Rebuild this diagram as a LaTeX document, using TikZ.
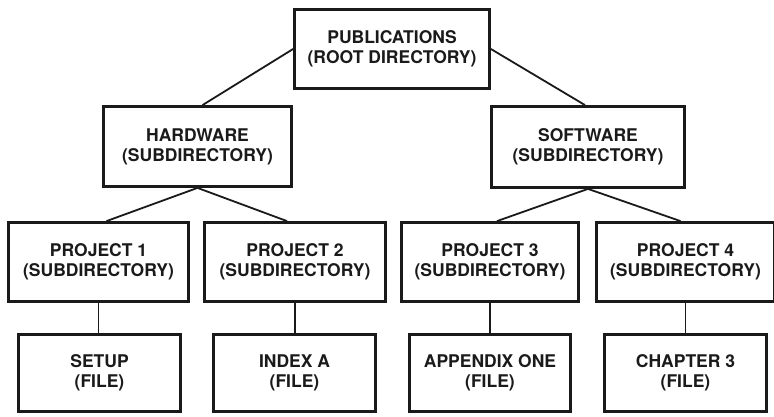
\documentclass[tikz,border=0pt]{standalone}
\usepackage{fontspec}
\setmainfont{TeX Gyre Heros}
\usetikzlibrary{calc}
\definecolor{ink}{HTML}{1A1A1A}
\tikzset{
  box/.style={draw=ink, line width=2.8pt, rectangle, align=center, inner sep=0pt,
    font=\fontsize{17.5}{20}\selectfont\bfseries, text=ink},
  bigbox/.style={box, minimum height=79pt},
  filebox/.style={box, minimum width=162pt, minimum height=77pt},
  link/.style={draw=ink, line width=1.8pt}
}
\begin{document}
\begin{tikzpicture}[x=1pt,y=-1pt]
\clip (0,0) rectangle (774,417);
\fill[white] (0,0) rectangle (774,417);
% level 1
\node[bigbox, minimum width=195pt] (root) at (392,49) {PUBLICATIONS\\(ROOT DIRECTORY)};
% level 2
\node[bigbox, minimum width=188pt, minimum height=80pt] (hw) at (197.5,146.5) {HARDWARE\\(SUBDIRECTORY)};
\node[bigbox, minimum width=193pt, minimum height=81pt] (sw) at (588,147) {SOFTWARE\\(SUBDIRECTORY)};
% level 3
\node[bigbox, minimum width=180pt] (p1) at (98.5,262) {PROJECT 1\\(SUBDIRECTORY)};
\node[bigbox, minimum width=181pt] (p2) at (295,262) {PROJECT 2\\(SUBDIRECTORY)};
\node[bigbox, minimum width=177pt] (p3) at (490,262) {PROJECT 3\\(SUBDIRECTORY)};
\node[bigbox, minimum width=178pt] (p4) at (685.5,262) {PROJECT 4\\(SUBDIRECTORY)};
% level 4
\node[filebox] (f1) at (99.5,373) {SETUP\\(FILE)};
\node[filebox] (f2) at (294.5,373) {INDEX A\\(FILE)};
\node[filebox, minimum width=161pt] (f3) at (490,373) {APPENDIX ONE\\(FILE)};
\node[filebox] (f4) at (685.5,373) {CHAPTER 3\\(FILE)};
% connectors
\draw[link] (root.west) -- ($(hw.north)+(5,0)$);
\draw[link] (root.east) -- ($(sw.north)+(-3,0)$);
\draw[link] (hw.south) -- ($(p1.north)+(8,0)$);
\draw[link] (hw.south) -- ($(p2.north)+(-8,0)$);
\draw[link] (sw.south) -- ($(p3.north)+(7,0)$);
\draw[link] (sw.south) -- ($(p4.north)+(-5,0)$);
\draw[link] (p1.south) -- (p1.south |- f1.north);
\draw[link] (p2.south) -- (p2.south |- f2.north);
\draw[link] (p3.south) -- (p3.south |- f3.north);
\draw[link] (p4.south) -- (p4.south |- f4.north);
\end{tikzpicture}
\end{document}
